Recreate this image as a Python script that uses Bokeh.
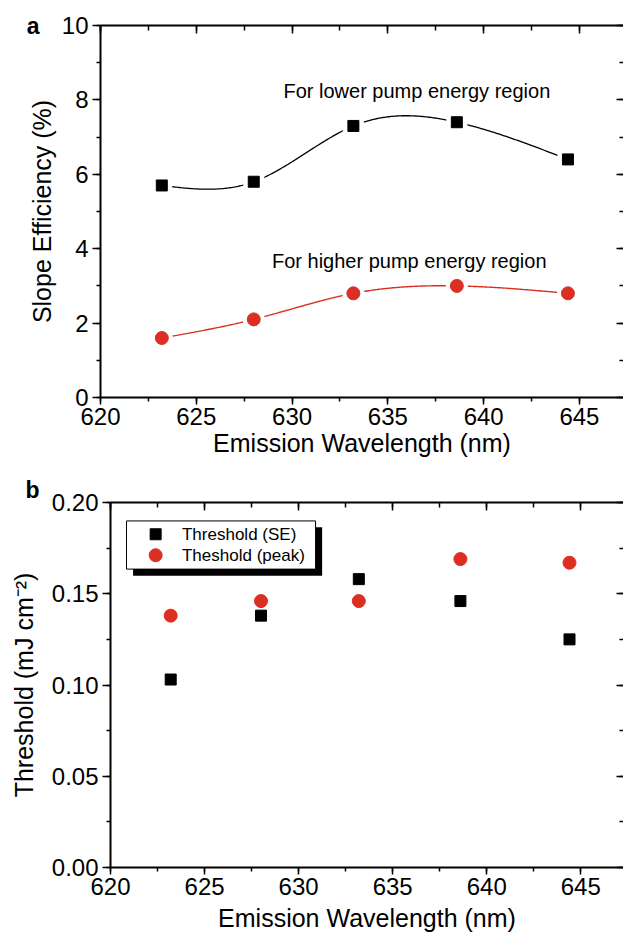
import numpy as np
from bokeh.plotting import figure
from bokeh.layouts import column, row
from bokeh.models import (LinearAxis, Range1d, NumeralTickFormatter, FixedTicker,
                          SingleIntervalTicker, CustomJSTickFormatter, Label)
from bokeh.embed import file_html
from bokeh.resources import INLINE
from bokeh.core.properties import value

# ---------------- data ----------------
wavelength = [623.2, 628.0, 633.2, 638.6, 644.4]
se_lower = [5.7, 5.8, 7.3, 7.4, 6.4]          # slope efficiency, lower pump energy (%)
se_higher = [1.6, 2.1, 2.8, 3.0, 2.8]         # slope efficiency, higher pump energy (%)
thr_se = [0.103, 0.138, 0.158, 0.146, 0.125]  # threshold (SE), mJ cm^-2
thr_peak = [0.138, 0.146, 0.146, 0.169, 0.167]  # threshold (peak), mJ cm^-2

legend_labels = ["Threshold (SE)", "Theshold (peak)"]

FONT = "Liberation Sans"
RED = "#DC2F23"


def natural_spline(x, y, n=300):
    x = np.asarray(x, float)
    y = np.asarray(y, float)
    k = len(x)
    h = np.diff(x)
    A = np.zeros((k, k))
    r = np.zeros(k)
    A[0, 0] = A[-1, -1] = 1.0
    for i in range(1, k - 1):
        A[i, i - 1] = h[i - 1]
        A[i, i] = 2 * (h[i - 1] + h[i])
        A[i, i + 1] = h[i]
        r[i] = 3 * ((y[i + 1] - y[i]) / h[i] - (y[i] - y[i - 1]) / h[i - 1])
    c = np.linalg.solve(A, r)
    b = (y[1:] - y[:-1]) / h - h * (2 * c[:-1] + c[1:]) / 3
    d = (c[1:] - c[:-1]) / (3 * h)
    xs = np.linspace(x[0], x[-1], n)
    idx = np.clip(np.searchsorted(x, xs, side="right") - 1, 0, k - 2)
    dx = xs - x[idx]
    ys = y[idx] + b[idx] * dx + c[idx] * dx ** 2 + d[idx] * dx ** 3
    return xs, ys


def make_fig(y_end, y_interval, fw, fh, mb_left, mb_top, mb_bottom, x_end,
             xlabel, ylabel, y_fmt=None, xl_standoff=0, yl_standoff=3, top_standoff=6):
    p = figure(frame_width=fw, frame_height=fh,
               x_range=Range1d(620, x_end), y_range=Range1d(0, y_end),
               output_backend="svg", toolbar_location=None,
               min_border_left=mb_left, min_border_right=0,
               min_border_top=mb_top, min_border_bottom=mb_bottom,
               background_fill_color="white", border_fill_color="white")
    p.outline_line_color = None
    p.grid.visible = False
    xt = SingleIntervalTicker(interval=5, num_minor_ticks=2)
    yt = SingleIntervalTicker(interval=y_interval, num_minor_ticks=2)

    xa = p.xaxis[0]
    xa.ticker = xt
    xa.axis_label = xlabel
    ya = p.yaxis[0]
    ya.ticker = yt
    ya.axis_label = ylabel
    if y_fmt is not None:
        ya.formatter = y_fmt

    for ax in (xa, ya):
        ax.axis_line_width = 2
        ax.axis_line_color = "black"
        ax.major_tick_line_width = 1.5
        ax.minor_tick_line_width = 1.5
        ax.major_tick_in = 0
        ax.minor_tick_in = 0
        ax.major_label_text_font = FONT
        ax.major_label_text_font_size = "24px"
        ax.major_label_text_color = "black"
        ax.axis_label_text_font = FONT
        ax.axis_label_text_font_size = "25px"
        ax.axis_label_text_font_style = "normal"
        ax.axis_label_text_color = "black"
    xa.major_tick_out = 7
    xa.minor_tick_out = 4
    xa.major_label_standoff = 3
    xa.axis_label_standoff = xl_standoff
    ya.major_tick_out = 8
    ya.minor_tick_out = 4
    ya.major_label_standoff = 4
    ya.axis_label_standoff = yl_standoff

    empty = CustomJSTickFormatter(code="return ''")
    top = LinearAxis(ticker=xt, formatter=empty, axis_line_width=2,
                     major_tick_in=8, major_tick_out=0, minor_tick_in=5, minor_tick_out=0,
                     major_tick_line_width=1.5, minor_tick_line_width=1.5,
                     major_label_standoff=top_standoff, major_label_text_font_size="1px")
    p.add_layout(top, "above")
    right = LinearAxis(ticker=yt, formatter=empty, axis_line_color=None,
                       major_tick_in=7, major_tick_out=0, minor_tick_in=4, minor_tick_out=0,
                       major_tick_line_width=1.5, minor_tick_line_width=1.5,
                       major_label_standoff=0, major_label_text_font_size="1px")
    p.add_layout(right, "right")
    return p


# ---------------- panel a ----------------
p1 = make_fig(10, 2, 523, 372, 100, 25, 67, 647.3,
              "Emission Wavelength (nm)", "Slope Efficiency (%)",
              xl_standoff=1, yl_standoff=3)

xs, ys = natural_spline(wavelength, se_lower)
p1.line(xs, ys, line_color="black", line_width=1.3)
xs2, ys2 = natural_spline(wavelength, se_higher)
p1.line(xs2, ys2, line_color=RED, line_width=1.4)
# white halos make the gap between line and symbol
p1.scatter(wavelength, se_lower, marker="square", size=21, fill_color="white", line_color=None)
p1.scatter(wavelength, se_higher, marker="circle", size=22, fill_color="white", line_color=None)
p1.scatter(wavelength, se_lower, marker="square", size=11, fill_color="black", line_color="black")
p1.scatter(wavelength, se_higher, marker="circle", size=13, fill_color=RED, line_color=RED)

p1.add_layout(Label(x=629.55, y=8.25, text="For lower pump energy region",
                    text_font=FONT, text_font_size="20px", text_color="black",
                    text_baseline="middle"))
p1.add_layout(Label(x=628.95, y=3.66, text="For higher pump energy region",
                    text_font=FONT, text_font_size="20px", text_color="black",
                    text_baseline="middle"))

# panel letter "a": an outer left axis with a single labelled tick at the top
a_axis = LinearAxis(ticker=FixedTicker(ticks=[10], minor_ticks=[]),
                    formatter=CustomJSTickFormatter(code="return 'a'"),
                    axis_line_color=None, major_tick_line_color=None, minor_tick_line_color=None,
                    major_tick_in=0, major_tick_out=0, minor_tick_in=0, minor_tick_out=0,
                    major_label_standoff=-15, major_label_text_font=FONT,
                    major_label_text_font_size="23px", major_label_text_font_style="bold",
                    major_label_text_color="black")
p1.add_layout(a_axis, "left")

# ---------------- panel b ----------------
p2 = make_fig(0.2, 0.05, 513, 365, 110, 38, 67, 647.27,
              "Emission Wavelength (nm)", "Threshold (mJ cm\u207b\u00b2)",
              y_fmt=NumeralTickFormatter(format="0.00"), xl_standoff=6, yl_standoff=11,
              top_standoff=11)

# legend box with shadow
p2.quad(left=[621.2], right=[631.25], top=[0.1864], bottom=[0.1598],
        fill_color="black", line_color=None)
p2.quad(left=[620.85], right=[630.9], top=[0.1899], bottom=[0.1635],
        fill_color="white", line_color="black", line_width=1)
p2.scatter([622.4], [0.1826], marker="square", size=11, fill_color="black", line_color="black")
p2.scatter([622.4], [0.1711], marker="circle", size=13, fill_color=RED, line_color=RED)
p2.text([623.8, 623.8], [0.1826, 0.1711], text=legend_labels,
        text_font=value(FONT), text_font_size=value("17px"),
        text_baseline="middle", text_align="left", text_color="black")

p2.scatter(wavelength, thr_se, marker="square", size=11, fill_color="black", line_color="black")
p2.scatter(wavelength, thr_peak, marker="circle", size=13, fill_color=RED, line_color=RED)

# panel letter "b" as the title
p2.title.text = "b"
p2.title.align = "left"
p2.title.offset = -85
p2.title.text_font = FONT
p2.title.text_font_size = "23px"
p2.title.text_font_style = "bold"
p2.title.text_color = "black"
p2.title.vertical_align = "bottom"
p2.title.standoff = 0

layout = column(row(p1), row(p2), spacing=0)
open("out.html", "w").write(file_html(layout, INLINE))
